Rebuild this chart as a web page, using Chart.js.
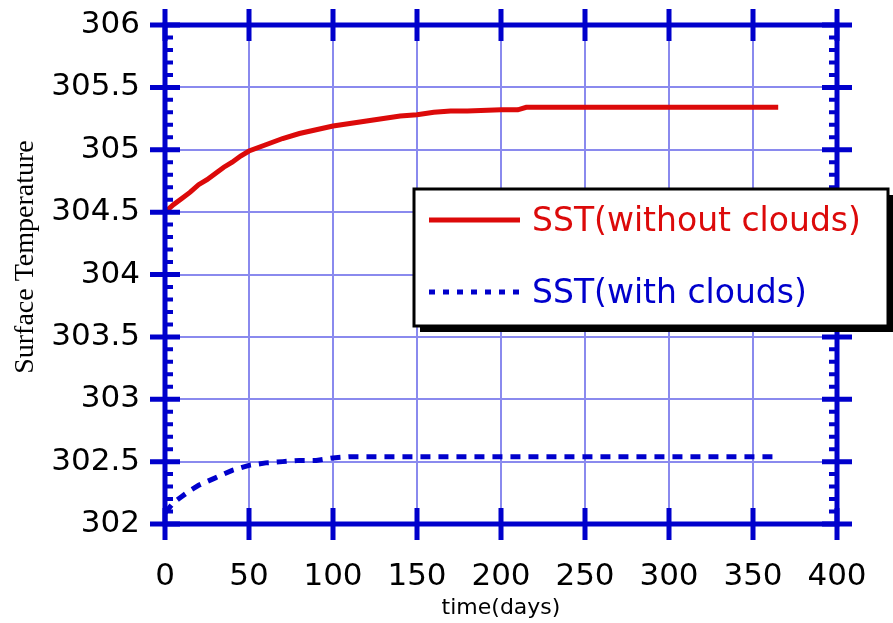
<!DOCTYPE html>
<html>
<head>
<meta charset="utf-8">
<script src="https://cdn.jsdelivr.net/npm/chart.js@4"></script>
<style>
  html, body { margin: 0; padding: 0; background: #fff; }
  #wrap { width: 893px; height: 623px; }
</style>
</head>
<body>
<div id="wrap"><canvas id="sstChart" width="893" height="623"></canvas></div>
<script>
// ========== データ ==========
const days = [0, 5, 10, 15, 20, 25, 30, 35, 40, 45, 50, 60, 70, 80, 90, 100, 110, 120, 130, 140, 150, 160, 170, 180, 200, 210, 215, 250, 300, 365];
const sstNoClouds = [304.50, 304.56, 304.61, 304.66, 304.72, 304.76, 304.81, 304.86, 304.90, 304.95, 304.99, 305.04, 305.09, 305.13, 305.16, 305.19, 305.21, 305.23, 305.25, 305.27, 305.28, 305.30, 305.31, 305.31, 305.32, 305.32, 305.34, 305.34, 305.34, 305.34];
const sstClouds = [302.09, 302.17, 302.22, 302.27, 302.31, 302.34, 302.37, 302.40, 302.43, 302.45, 302.47, 302.49, 302.50, 302.51, 302.51, 302.53, 302.54, 302.54, 302.54, 302.54, 302.54, 302.54, 302.54, 302.54, 302.54, 302.54, 302.54, 302.54, 302.54, 302.54];
const seriesLabels = ["SST(without clouds)", "SST(with clouds)"];
const xTitle = "time(days)";
const yTitle = "Surface Temperature";

// ========== 色・フォント ==========
const RED = "#dc0a0a";
const BLUE = "#0000cc";
const GRID = "#8a8aee";
const SANS = "'DejaVu Sans', Verdana, sans-serif";
const SERIF = "'Liberation Serif', 'Times New Roman', serif";

function toPoints(xs, ys) {
  return xs.map((x, i) => ({ x: x, y: ys[i] }));
}

// ========== 枠と目盛り ==========
const framePlugin = {
  id: "frame",
  afterDatasetsDraw(chart) {
    const ctx = chart.ctx;
    const a = chart.chartArea;
    const xs = chart.scales.x;
    const ys = chart.scales.y;
    ctx.save();
    ctx.strokeStyle = BLUE;
    ctx.lineCap = "butt";

    // 外枠
    ctx.lineWidth = 5;
    ctx.strokeRect(a.left, a.top, a.right - a.left, a.bottom - a.top);

    // 主目盛り
    ctx.beginPath();
    ys.ticks.forEach(t => {
      const p = ys.getPixelForValue(t.value);
      ctx.moveTo(a.left - 15, p); ctx.lineTo(a.left + 15, p);
      ctx.moveTo(a.right - 15, p); ctx.lineTo(a.right + 15, p);
    });
    xs.ticks.forEach(t => {
      const p = xs.getPixelForValue(t.value);
      ctx.moveTo(p, a.top - 16); ctx.lineTo(p, a.top + 16);
      ctx.moveTo(p, a.bottom - 16); ctx.lineTo(p, a.bottom + 16);
    });
    ctx.stroke();

    // 補助目盛り（0.1刻み、内側のみ）
    ctx.lineWidth = 4;
    ctx.beginPath();
    for (let i = 0; i <= 40; i++) {
      if (i % 5 === 0) continue;
      const p = ys.getPixelForValue(ys.min + i * 0.1);
      ctx.moveTo(a.left, p); ctx.lineTo(a.left + 8, p);
      ctx.moveTo(a.right - 8, p); ctx.lineTo(a.right, p);
    }
    ctx.stroke();

    // 縦軸タイトル（少し上寄り）
    ctx.translate(26, 257);
    ctx.rotate(-Math.PI / 2);
    ctx.fillStyle = "#000";
    ctx.font = "28px " + SERIF;
    ctx.textAlign = "center";
    ctx.textBaseline = "middle";
    ctx.fillText(yTitle, 0, 0);
    ctx.restore();
  }
};

// ========== 凡例（影付きボックス） ==========
const legendBoxPlugin = {
  id: "legendBox",
  afterDraw(chart) {
    const ctx = chart.ctx;
    const bx = 414, by = 189, bw = 474, bh = 137;
    ctx.save();
    ctx.fillStyle = "#000";
    ctx.fillRect(bx + 6, by + 6, bw, bh);
    ctx.fillStyle = "#fff";
    ctx.fillRect(bx, by, bw, bh);
    ctx.lineWidth = 3;
    ctx.strokeStyle = "#000";
    ctx.strokeRect(bx, by, bw, bh);

    const rows = [
      { y: 220, ds: chart.data.datasets[0] },
      { y: 292, ds: chart.data.datasets[1] }
    ];
    ctx.font = "33px " + SANS;
    ctx.textBaseline = "middle";
    ctx.textAlign = "left";
    rows.forEach(r => {
      ctx.strokeStyle = r.ds.borderColor;
      ctx.lineWidth = 5;
      ctx.setLineDash(r.ds.borderDash && r.ds.borderDash.length ? [6, 8] : []);
      ctx.beginPath();
      ctx.moveTo(429, r.y);
      ctx.lineTo(520, r.y);
      ctx.stroke();
      ctx.setLineDash([]);
      ctx.fillStyle = r.ds.borderColor;
      ctx.fillText(r.ds.label, 532, r.y + 2);
    });
    ctx.restore();
  }
};

// ========== チャート描画 ==========
window.onload = function() {
  new Chart(document.getElementById("sstChart").getContext("2d"), {
    type: "line",
    data: {
      datasets: [
        {
          label: seriesLabels[0],
          data: toPoints(days, sstNoClouds),
          borderColor: RED,
          backgroundColor: RED,
          borderWidth: 5,
          pointRadius: 0,
          tension: 0,
          fill: false
        },
        {
          label: seriesLabels[1],
          data: toPoints(days, sstClouds),
          borderColor: BLUE,
          backgroundColor: BLUE,
          borderWidth: 5,
          borderDash: [10, 8],
          pointRadius: 0,
          tension: 0,
          fill: false
        }
      ]
    },
    options: {
      responsive: false,
      animation: false,
      layout: { padding: { top: 25, right: 56, left: 0, bottom: 0 } },
      plugins: {
        legend: { display: false },
        tooltip: { enabled: false }
      },
      scales: {
        x: {
          type: "linear",
          min: 0,
          max: 400,
          afterFit: s => { s.height = 99; s.paddingLeft = 0; s.paddingRight = 0; },
          ticks: { stepSize: 50, color: "#000", padding: 34, font: { family: SANS, size: 31 } },
          grid: { color: GRID, lineWidth: 2, drawTicks: false },
          border: { display: false },
          title: { display: true, text: xTitle, color: "#000", padding: { top: 0, bottom: 2 }, font: { family: SANS, size: 22 } }
        },
        y: {
          type: "linear",
          min: 302,
          max: 306,
          afterFit: s => { s.width = 165; s.paddingTop = 0; s.paddingBottom = 0; },
          ticks: {
            stepSize: 0.5,
            color: "#000",
            padding: 25,
            font: { family: SANS, size: 31 },
            callback: v => String(Math.round(v * 10) / 10)
          },
          grid: { color: GRID, lineWidth: 2, drawTicks: false },
          border: { display: false },
          title: { display: false }
        }
      }
    },
    plugins: [framePlugin, legendBoxPlugin]
  });
};
</script>
</body>
</html>
